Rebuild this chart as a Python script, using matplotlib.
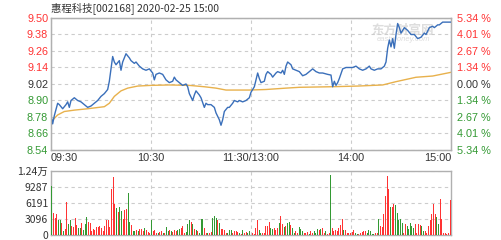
import numpy as np
import matplotlib
matplotlib.use('Agg')
import matplotlib.pyplot as plt

'''
intraday chart for 惠程科技, 2020-02-25
minute index 0..240 (09:30-11:30, 13:00-15:00)
'''
pre_close = 9.02

# price line, (minute index, price)
price_min = [0, 1, 2, 4, 5, 7, 9, 10, 11, 12, 14, 16, 18, 20, 22, 24, 26, 28, 30, 32,
             34, 35, 36, 37, 38, 39, 41, 42, 43, 44, 45, 47, 48, 50, 51, 53, 55, 57, 59, 61,
             62, 63, 65, 67, 69, 71, 73, 74, 75, 77, 79, 81, 82, 83, 85, 86, 87, 89, 90, 92,
             93, 94, 96, 98, 99, 101, 102, 103, 104, 106, 107, 109, 110, 112, 113, 115, 117, 119, 120, 122,
             123, 124, 125, 126, 128, 129, 130, 132, 133, 135, 136, 138, 139, 140, 141, 142, 144, 145, 147, 149,
             151, 153, 155, 157, 159, 161, 163, 166, 168, 169, 170, 171, 172, 173, 175, 177, 179, 181, 183, 185,
             187, 189, 191, 192, 194, 196, 198, 200, 201, 202, 203, 204, 205, 206, 207, 208, 209, 210, 211, 212,
             214, 216, 218, 220, 222, 224, 225, 227, 229, 230, 232, 233, 235, 237, 240]
price = [8.79, 8.73, 8.79, 8.88, 8.87, 8.84, 8.87, 8.89, 8.85, 8.90, 8.92, 8.90, 8.89, 8.87, 8.85, 8.86, 8.88, 8.90, 8.93, 8.95,
         8.98, 9.04, 9.13, 9.22, 9.18, 9.16, 9.19, 9.12, 9.18, 9.21, 9.24, 9.21, 9.19, 9.17, 9.18, 9.15, 9.13, 9.12, 9.13, 9.10,
         9.05, 9.09, 9.10, 9.09, 9.05, 9.03, 9.04, 9.07, 9.05, 9.03, 9.01, 9.02, 9.00, 8.95, 8.90, 8.94, 8.97, 8.94, 8.92, 8.85,
         8.88, 8.87, 8.87, 8.85, 8.81, 8.76, 8.72, 8.76, 8.82, 8.85, 8.85, 8.88, 8.90, 8.89, 8.90, 8.89, 8.90, 8.92, 8.96, 9.00,
         9.05, 9.10, 9.06, 9.03, 9.04, 9.09, 9.11, 9.09, 9.07, 9.10, 9.11, 9.10, 9.12, 9.09, 9.15, 9.18, 9.16, 9.13, 9.12, 9.11,
         9.08, 9.09, 9.11, 9.13, 9.11, 9.10, 9.10, 9.09, 9.085, 9.00, 9.04, 9.01, 9.03, 9.06, 9.13, 9.14, 9.14, 9.14, 9.15, 9.13,
         9.12, 9.13, 9.15, 9.13, 9.12, 9.13, 9.13, 9.15, 9.18, 9.28, 9.34, 9.29, 9.35, 9.28, 9.38, 9.46, 9.43, 9.39, 9.41, 9.43,
         9.41, 9.38, 9.38, 9.35, 9.36, 9.39, 9.38, 9.43, 9.44, 9.43, 9.45, 9.45, 9.47, 9.47, 9.47]

# average price line
avg_min = [0, 4, 8, 14, 22, 32, 35, 38, 42, 46, 52, 60, 71, 83, 92, 99, 105, 119,
           129, 141, 149, 168, 184, 199, 207, 219, 229, 240]
avg_price = [8.745, 8.795, 8.82, 8.83, 8.84, 8.855, 8.88, 8.93, 8.97, 8.99, 9.005, 9.01, 9.013, 9.01,
             9.00, 8.99, 8.976, 8.976, 8.98, 8.99, 8.996, 9.00, 9.005, 9.013, 9.037, 9.069, 9.078, 9.105]

# volume per minute (shares), and r = up / g = down
volume = [9500, 4170, 3180, 3970, 2780, 2780, 2300, 800, 1200, 6290,
          1990, 2780, 1650, 1460, 3300, 1850, 1320, 1320, 2300, 990,
          2100, 3500, 2500, 2300, 660, 1200, 990, 1460, 1460, 1600,
          1320, 800, 1650, 2900, 2780, 1500, 8800, 11250, 5960, 5160,
          4430, 5300, 4630, 2980, 4830, 4960, 8080, 2520, 1850, 660,
          660, 990, 660, 1130, 1130, 800, 1320, 990, 460, 330,
          2800, 800, 990, 400, 300, 530, 660, 300, 400, 1450,
          800, 860, 660, 530, 990, 800, 990, 1190, 1320, 1650,
          400, 530, 1990, 2780, 2450, 2120, 1200, 990, 660, 400,
          3000, 3110, 1320, 330, 330, 260, 530, 3180, 3640, 3310,
          2780, 2320, 1200, 1200, 990, 400, 260, 990, 990, 260,
          800, 800, 530, 260, 200, 860, 260, 530, 260, 660,
          530, 330, 200, 1320, 2780, 990, 330, 260, 400, 1650,
          1650, 2450, 1320, 1190, 1320, 990, 1320, 2320, 3640, 1990,
          1460, 1650, 2320, 2520, 1850, 1320, 330, 660, 260, 1460,
          1190, 660, 260, 330, 530, 200, 800, 330, 660, 330,
          1130, 990, 1130, 1320, 330, 660, 200, 260, 11700, 1320,
          800, 990, 660, 1320, 1850, 2980, 990, 860, 330, 260,
          400, 530, 1000, 330, 200, 200, 260, 530, 800, 800,
          330, 990, 660, 200, 200, 330, 260, 3000, 1650, 1460,
          3970, 7480, 11500, 8800, 5430, 5300, 5960, 5830, 4300, 2850,
          2980, 2320, 330, 2120, 1650, 1200, 2320, 1650, 1320, 1990,
          400, 2120, 1790, 1650, 800, 660, 330, 1650, 2780, 3970,
          6030, 3970, 3440, 1990, 6890, 2980, 330, 260, 200, 400,
          6800]
vol_dir = ("grrrggrgrr" "ggrrrrggrg" "ggrrrrrrrr" "rrrrrrrrrg" "rggrrrggrg" "grgrrrgrrr"
           "grrrgrrgrg" "grgrrrggrr" "rgggrgrgrg" "ggrrgrrggg" "rgrrrrgggr" "rrrgrgrrgg"
           "rrrrrggrrr" "rrggrrrgrr" "grggrggrrg" "ggrrrgrrgg" "grgrrgrrgr" "rrrrrrgrrr"
           "rrrggrrrrr" "gggggrrgrr" "rrrrgrrggg" "ggrrgggggr" "rrrggrrrrr" "rrggrrrrrr" "r")

price_ticks = [9.50, 9.38, 9.26, 9.14, 9.02, 8.90, 8.78, 8.66, 8.54]
pct_labels = ['5.34 %', '4.01 %', '2.67 %', '1.34 %', '0.00 %', '1.34 %', '2.67 %', '4.01 %', '5.34 %']
time_ticks = [0, 60, 120, 180, 240]
time_labels = ['09:30', '10:30', '11:30/13:00', '14:00', '15:00']
vol_ticks = [0, 3096, 6191, 9287, 12383]
vol_labels = ['0', '3096', '6191', '9287', '1.24万']

RED = '#FF3333'
GREEN = '#339933'
DARK = '#333333'
GRID = '#CCCCCC'
FRAME = '#B0B0B0'
NUM_FONT = ['Liberation Sans', 'DejaVu Sans']
CJK_FONT = ['Noto Sans CJK SC', 'DejaVu Sans']

def tick_color(p):
    if p > pre_close + 1e-6:
        return RED
    elif p < pre_close - 1e-6:
        return GREEN
    return DARK

fig = plt.figure(figsize=(5.02, 2.40), dpi=100)
fig.patch.set_facecolor('white')

# ---- price panel
ax = fig.add_axes([51/502, 1 - 150/240, 400/502, 132/240])
ax.plot(price_min, price, color='#3A6FBA', lw=1.0, zorder=3)
ax.plot(avg_min, avg_price, color='#E8B14C', lw=1.0, zorder=2)
ax.set_xlim(0, 240)
ax.set_ylim(8.54, 9.50)
ax.set_yticks(price_ticks)
ax.set_yticklabels(['%.2f' % p for p in price_ticks], family=NUM_FONT, fontsize=7.8)
for lab, p in zip(ax.get_yticklabels(), price_ticks):
    lab.set_color(tick_color(p))
ax.set_xticks(time_ticks)
ax.set_xticklabels(time_labels, family=NUM_FONT, fontsize=7.8, color=DARK)
xl = ax.get_xticklabels()
xl[0].set_horizontalalignment('left')
xl[-1].set_horizontalalignment('right')
ax.tick_params(length=0, pad=2)
ax.grid(True, color=GRID, ls=(0, (3, 3)), lw=0.8)
for s in ax.spines.values():
    s.set_color(FRAME)
    s.set_linewidth(1.0)

ax2 = ax.twinx()
ax2.set_ylim(8.54, 9.50)
ax2.set_yticks(price_ticks)
ax2.set_yticklabels(pct_labels, family=NUM_FONT, fontsize=7.8)
for lab, p in zip(ax2.get_yticklabels(), price_ticks):
    lab.set_color(tick_color(p))
ax2.tick_params(length=0, pad=4)
for s in ax2.spines.values():
    s.set_color(FRAME)

# faint watermark
ax.text(0.88, 0.91, '东方财富网', transform=ax.transAxes, family=CJK_FONT, fontsize=9,
        color='#DDDDDD', ha='center', va='center', fontweight='bold', zorder=1)
ax.text(0.88, 0.84, 'eastmoney.com', transform=ax.transAxes, family=NUM_FONT, fontsize=5.5,
        color='#DDDDDD', ha='center', va='center', fontstyle='italic', zorder=1)

fig.text(51/502, 1 - 8/240, '惠程科技[002168] 2020-02-25 15:00', family=CJK_FONT,
         fontsize=7.5, color=DARK, ha='left', va='center')

# ---- volume panel
axv = fig.add_axes([51/502, 1 - 234.7/240, 400/502, 63.7/240])
mins = np.arange(len(volume))
colors = [RED if d == 'r' else GREEN for d in vol_dir]
axv.bar(mins, volume, width=0.6, color=colors, linewidth=0, zorder=3)
axv.set_xlim(-0.5, 240.5)
axv.set_ylim(0, 12383)
axv.set_yticks(vol_ticks)
axv.set_yticklabels(vol_labels, family=CJK_FONT, fontsize=7.5, color=DARK)
axv.set_xticks([60, 120, 180])
axv.set_xticklabels([])
axv.tick_params(length=0, pad=2)
axv.grid(True, color=GRID, ls=(0, (3, 3)), lw=0.8)
for s in axv.spines.values():
    s.set_color(FRAME)
    s.set_linewidth(1.0)

plt.savefig('out.png', dpi=100)
